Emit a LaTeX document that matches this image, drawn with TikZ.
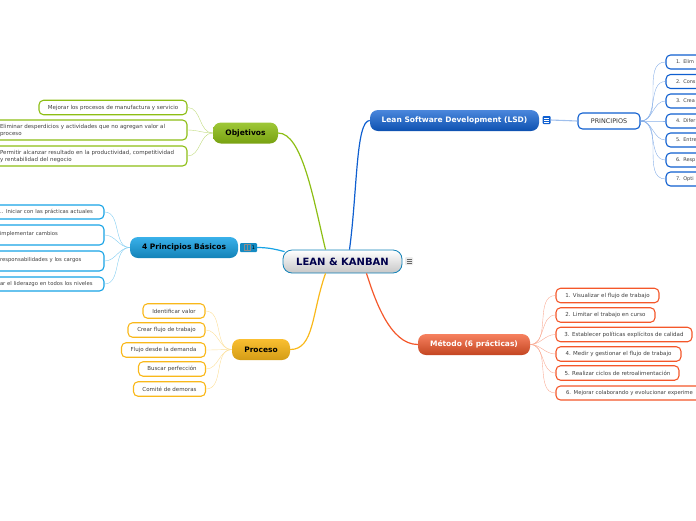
\documentclass[tikz,border=0pt]{standalone}
\usepackage{fontspec}
\setmainfont{DejaVu Sans}
\definecolor{objcol}{HTML}{8DBE14}
\definecolor{lsdcol}{HTML}{0F5FD0}
\definecolor{prccol}{HTML}{17A3E6}
\definecolor{proccol}{HTML}{F9B81A}
\definecolor{metcol}{HTML}{F4572A}
\tikzset{
  branch/.style={rounded corners=8pt,font=\fontsize{7.5}{9}\selectfont\bfseries,inner sep=0pt,minimum height=21pt},
  leaf/.style={draw,fill=white,rounded corners=4.5pt,line width=1.1pt,inner sep=0pt,minimum height=14.5pt,align=left,text=black!75,font=\fontsize{5.5}{7}\selectfont},
  edgeleaf/.style={leaf,font=\fontsize{5}{7}\selectfont,draw=lsdcol,minimum width=62pt,text width=42pt,minimum height=14pt},
  sideleaf/.style={leaf,font=\fontsize{5.3}{7}\selectfont,draw=prccol,minimum width=110pt,text width=98pt},
  icon/.style={rounded corners=1pt,inner sep=0pt,minimum height=8pt,minimum width=8pt},
  iconline/.style={line width=0.7pt},
  mainline/.style={line width=1.2pt}
}
\begin{document}
\begin{tikzpicture}[x=1pt,y=-1pt]
\useasboundingbox (0,0) rectangle (696,520);
\clip (0,0) rectangle (696,520);

% centre
\node[rounded corners=9pt,draw=prccol!80!black,line width=0.8pt,top color=white,bottom color=black!22,inner sep=0pt,minimum width=119pt,minimum height=23pt,text=blue!30!black,font=\fontsize{10}{12}\selectfont\bfseries] (root) at (342.5,261.5) {LEAN \& KANBAN};
\node[icon,fill=black!8] (rooticon) at (409,261) {};
\draw[iconline,black!60] (406.5,259) -- (411.5,259);
\draw[iconline,black!60] (406.5,261) -- (411.5,261);
\draw[iconline,black!60] (406.5,263) -- (411.5,263);

% branches
\node[branch,minimum width=65pt,top color=objcol!85!white,bottom color=objcol!85!black] (objetivos) at (245.5,133) {Objetivos};
\node[branch,minimum width=169pt,top color=lsdcol!75!white,bottom color=lsdcol!85!black,text=white] (lsd) at (454.5,120.5) {Lean Software Development (LSD)};
\node[branch,minimum width=108pt,top color=prccol!85!white,bottom color=prccol!80!black] (basicos) at (184,247.5) {4 Principios Básicos};
\node[branch,minimum width=58pt,top color=proccol!90!white,bottom color=proccol!85!black] (proceso) at (261,349.5) {Proceso};
\node[branch,minimum width=112pt,top color=metcol!75!white,bottom color=metcol!80!black,text=white] (metodo) at (474,344.5) {Método (6 prácticas)};

\node[icon,fill=lsdcol] (lsdicon) at (546.5,120) {};
\draw[iconline,white] (544,118) -- (549,118);
\draw[iconline,white] (544,120) -- (549,120);
\draw[iconline,white] (544,122) -- (549,122);
\node[icon,fill=prccol!85!black,minimum width=17pt,minimum height=9pt,text=black,font=\fontsize{5}{6}\selectfont] (basicosicon) at (248.5,247.5) {\hspace{10pt}1};
\draw[iconline,black!45] (244,244) rectangle (250,250);
\draw[iconline,black!45] (247,244) -- (247,250);

\node[leaf,draw=lsdcol,text=black!80,minimum width=62pt,minimum height=16pt,font=\fontsize{6.4}{8}\selectfont] (principios) at (609,121) {PRINCIPIOS};

% Objetivos
\node[leaf,draw=objcol,minimum width=148pt] (obja) at (113,107.5) {Mejorar los procesos de manufactura y servicio};
\node[leaf,draw=objcol,minimum width=192pt,text width=182pt,minimum height=20pt] (objb) at (91,130) {Eliminar desperdicios y actividades que no agregan valor al\\proceso};
\node[leaf,draw=objcol,minimum width=192pt,text width=182pt,minimum height=20pt] (objc) at (91,156) {Permitir alcanzar resultado en la productividad, competitividad\\y rentabilidad del negocio};

% 4 Principios
\node[sideleaf,minimum height=14pt] (basa) at (49,212) {.. Iniciar con las prácticas actuales};
\node[sideleaf,minimum height=20pt] (basb) at (49,235) {\raisebox{3.5pt}{implementar cambios}};
\node[sideleaf,minimum height=20pt] (basc) at (49,261) {\raisebox{3.5pt}{responsabilidades y los cargos}};
\node[sideleaf,minimum height=14pt] (basd) at (49,284) {ar el liderazgo en todos los niveles};

% Proceso
\node[leaf,draw=proccol,minimum width=62pt] (proca) at (174,311) {Identificar valor};
\node[leaf,draw=proccol,minimum width=77pt] (procb) at (166.5,330) {Crear flujo de trabajo};
\node[leaf,draw=proccol,minimum width=84pt] (procc) at (163.5,350) {Flujo desde la demanda};
\node[leaf,draw=proccol,minimum width=67pt] (procd) at (172,369) {Buscar perfección};
\node[leaf,draw=proccol,minimum width=72pt] (proce) at (169.5,389) {Comité de demoras};

% Metodo
\node[leaf,draw=metcol,minimum width=103pt] (meta) at (607.5,295.5) {1. Visualizar el flujo de trabajo};
\node[leaf,draw=metcol,minimum width=99pt] (metb) at (605.5,315) {2. Limitar el trabajo en curso};
\node[leaf,draw=metcol,minimum width=136pt] (metc) at (624,334.5) {3. Establecer políticas explícitos de calidad};
\node[leaf,draw=metcol,minimum width=125pt] (metd) at (618.5,354) {4. Medir y gestionar el flujo de trabajo};
\node[leaf,draw=metcol,minimum width=123pt] (mete) at (617.5,373) {5. Realizar ciclos de retroalimentación};
\node[leaf,draw=metcol,minimum width=160pt,text width=140pt,minimum height=14pt,font=\fontsize{5.3}{7}\selectfont] (metf) at (636,393) {6. Mejorar colaborando y evolucionar experime};

% LSD
\node[edgeleaf] (lsda) at (697,62) {1. Elim};
\node[edgeleaf] (lsdb) at (697,81.5) {2. Cons};
\node[edgeleaf] (lsdc) at (697,101) {3. Crea};
\node[edgeleaf] (lsdd) at (697,121) {4. Difer};
\node[edgeleaf] (lsde) at (697,140) {5. Entre};
\node[edgeleaf] (lsdf) at (697,160) {6. Resp};
\node[edgeleaf] (lsdg) at (697,179) {7. Opti};

% connectors
\draw[mainline,objcol] (objetivos.east) .. controls +(24,0) and +(-12,-50) .. ([xshift=-17pt]root.north);
\draw[mainline,lsdcol] (lsd.west) .. controls +(-14,0) and +(8,-60) .. ([xshift=7pt]root.north);
\draw[mainline,prccol] (basicosicon.east) .. controls +(12,0) and +(-8,-2) .. ([xshift=2pt,yshift=-2pt]root.north west);
\draw[mainline,proccol] (proceso.east) .. controls +(24,0) and +(-14,40) .. ([xshift=-17pt]root.south);
\draw[mainline,metcol] (metodo.west) .. controls +(-28,0) and +(8,25) .. ([xshift=24pt]root.south);
\draw[lsdcol!40,line width=1.1pt] (lsdicon.east) -- (principios.west);

\draw[objcol!55] (objetivos.west) to[out=180,in=0] (obja.east);
\draw[objcol!55] (objetivos.west) to[out=180,in=0] (objb.east);
\draw[objcol!55] (objetivos.west) to[out=180,in=0] (objc.east);

\draw[prccol!55] (basicos.west) to[out=180,in=0] (basa.east);
\draw[prccol!55] (basicos.west) to[out=180,in=0] (basb.east);
\draw[prccol!55] (basicos.west) to[out=180,in=0] (basc.east);
\draw[prccol!55] (basicos.west) to[out=180,in=0] (basd.east);

\draw[proccol!45] (proceso.west) to[out=180,in=0] (proca.east);
\draw[proccol!45] (proceso.west) to[out=180,in=0] (procb.east);
\draw[proccol!45] (proceso.west) to[out=180,in=0] (procc.east);
\draw[proccol!45] (proceso.west) to[out=180,in=0] (procd.east);
\draw[proccol!45] (proceso.west) to[out=180,in=0] (proce.east);

\draw[metcol!50] (metodo.east) to[out=0,in=180] (meta.west);
\draw[metcol!50] (metodo.east) to[out=0,in=180] (metb.west);
\draw[metcol!50] (metodo.east) to[out=0,in=180] (metc.west);
\draw[metcol!50] (metodo.east) to[out=0,in=180] (metd.west);
\draw[metcol!50] (metodo.east) to[out=0,in=180] (mete.west);
\draw[metcol!50] (metodo.east) to[out=0,in=180] (metf.west);

\draw[lsdcol!50] (principios.east) to[out=0,in=180] (lsda.west);
\draw[lsdcol!50] (principios.east) to[out=0,in=180] (lsdb.west);
\draw[lsdcol!50] (principios.east) to[out=0,in=180] (lsdc.west);
\draw[lsdcol!50] (principios.east) to[out=0,in=180] (lsdd.west);
\draw[lsdcol!50] (principios.east) to[out=0,in=180] (lsde.west);
\draw[lsdcol!50] (principios.east) to[out=0,in=180] (lsdf.west);
\draw[lsdcol!50] (principios.east) to[out=0,in=180] (lsdg.west);
\end{tikzpicture}
\end{document}
